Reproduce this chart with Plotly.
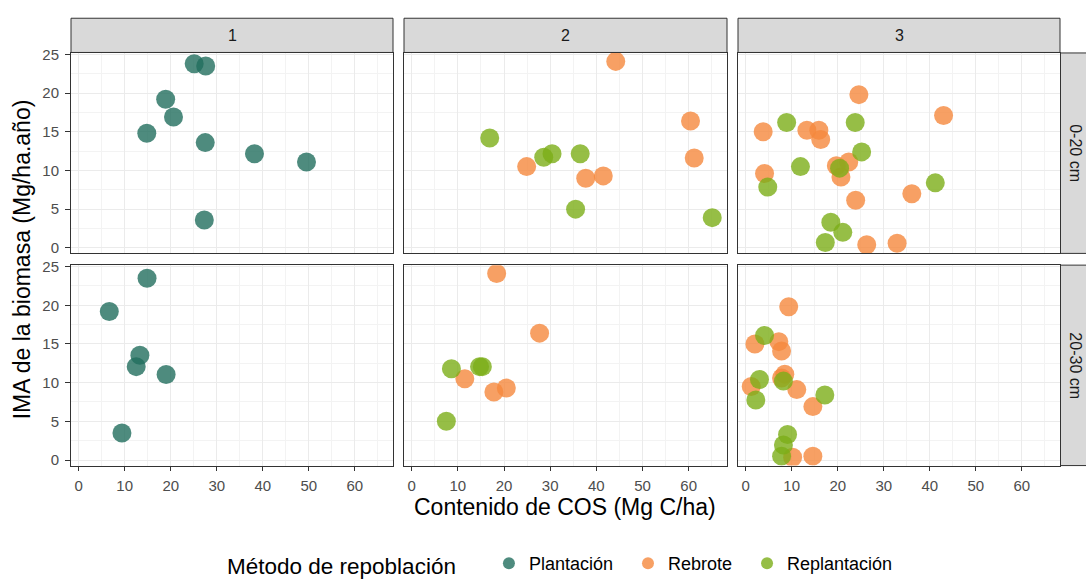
import plotly.graph_objects as go

W, H = 1086, 585

methods = ["Plantación", "Rebrote", "Replantación"]
colors = {"Plantación": "rgba(34,110,94,0.8)",
          "Rebrote": "rgba(245,136,61,0.8)",
          "Replantación": "rgba(124,174,24,0.8)"}

cols = ["1", "2", "3"]
rows = ["0-20 cm", "20-30 cm"]

p1_020_plant_x = [25.1, 27.6, 18.9, 20.6, 14.8, 27.5, 38.2, 49.5, 27.3]
p1_020_plant_y = [23.8, 23.5, 19.2, 16.9, 14.8, 13.6, 12.15, 11.1, 3.6]

p2_020_rebr_x = [44.2, 60.4, 61.2, 24.9, 37.7, 41.5]
p2_020_rebr_y = [24.1, 16.4, 11.6, 10.5, 9.0, 9.3]
p2_020_repl_x = [16.9, 28.6, 30.4, 36.5, 35.5, 65.1]
p2_020_repl_y = [14.2, 11.7, 12.15, 12.15, 5.0, 3.9]

p3_020_rebr_x = [24.6, 43.0, 3.8, 13.3, 15.9, 16.3, 22.4, 19.7, 20.7, 4.1, 23.9, 36.1, 26.3, 32.9]
p3_020_rebr_y = [19.8, 17.1, 15.0, 15.2, 15.2, 14.0, 11.1, 10.6, 9.15, 9.6, 6.15, 7.0, 0.4, 0.6]
p3_020_repl_x = [8.9, 23.8, 25.2, 11.9, 20.4, 4.8, 41.2, 18.5, 21.1, 17.3]
p3_020_repl_y = [16.2, 16.2, 12.4, 10.5, 10.3, 7.85, 8.4, 3.3, 2.0, 0.7]

p1_2030_plant_x = [14.85, 6.65, 13.3, 12.5, 19.0, 9.4]
p1_2030_plant_y = [23.5, 19.2, 13.55, 12.07, 11.05, 3.5]

p2_2030_rebr_x = [18.4, 27.7, 11.5, 17.8, 20.5]
p2_2030_rebr_y = [24.1, 16.4, 10.5, 8.8, 9.3]
p2_2030_repl_x = [8.6, 14.7, 15.3, 7.5]
p2_2030_repl_y = [11.8, 12.07, 12.07, 5.0]

p3_2030_rebr_x = [9.35, 2.0, 7.2, 7.8, 8.5, 7.8, 1.2, 11.1, 14.6, 10.2, 14.6]
p3_2030_rebr_y = [19.8, 15.0, 15.3, 14.1, 11.1, 10.6, 9.5, 9.1, 6.9, 0.35, 0.5]
p3_2030_repl_x = [4.1, 3.0, 8.2, 2.2, 17.2, 9.1, 8.2, 7.8]
p3_2030_repl_y = [16.1, 10.4, 10.2, 7.75, 8.4, 3.3, 1.95, 0.5]

series = [
    (1, 1, "Plantación", p1_020_plant_x, p1_020_plant_y),
    (2, 1, "Rebrote", p2_020_rebr_x, p2_020_rebr_y),
    (2, 1, "Replantación", p2_020_repl_x, p2_020_repl_y),
    (3, 1, "Rebrote", p3_020_rebr_x, p3_020_rebr_y),
    (3, 1, "Replantación", p3_020_repl_x, p3_020_repl_y),
    (1, 2, "Plantación", p1_2030_plant_x, p1_2030_plant_y),
    (2, 2, "Rebrote", p2_2030_rebr_x, p2_2030_rebr_y),
    (2, 2, "Replantación", p2_2030_repl_x, p2_2030_repl_y),
    (3, 2, "Rebrote", p3_2030_rebr_x, p3_2030_rebr_y),
    (3, 2, "Replantación", p3_2030_repl_x, p3_2030_repl_y),
]

x_ticks = [0, 10, 20, 30, 40, 50, 60]
y_ticks = [0, 5, 10, 15, 20, 25]

col_px = [(71, 393), (404, 727), (738, 1060)]
row_px = [(47, 252), (264, 469)]

def px_x(v):
    return v / W

def px_y(v):
    return 1 - v / H

fig = go.Figure()

rank = {"Plantación": 1, "Rebrote": 2, "Replantación": 3}
shown = set()
for c, r, m, xs, ys in series:
    idx = (r - 1) * 3 + c
    xa = "x" if idx == 1 else f"x{idx}"
    ya = "y" if idx == 1 else f"y{idx}"
    fig.add_trace(go.Scatter(
        x=xs, y=ys, mode="markers", name=m + "  ", legendgroup=m,
        showlegend=m not in shown, legendrank=rank[m],
        marker=dict(size=19, color=colors[m], line=dict(width=0)),
        xaxis=xa, yaxis=ya,
    ))
    shown.add(m)

grid_major = "#EBEBEB"
grid_minor = "#F3F3F3"
FONT = "Liberation Sans, Arial"
tickfont = dict(family=FONT, size=15, color="#4D4D4D")

layout = dict()
for r in range(1, 3):
    for c in range(1, 4):
        idx = (r - 1) * 3 + c
        xk = "xaxis" if idx == 1 else f"xaxis{idx}"
        yk = "yaxis" if idx == 1 else f"yaxis{idx}"
        x0, x1 = col_px[c - 1]
        y0, y1 = row_px[r - 1]
        bottom = r == 2
        left = c == 1
        layout[xk] = dict(
            domain=[px_x(x0), px_x(x1)], range=[-1.67, 68.3],
            anchor="y" if idx == 1 else f"y{idx}",
            tickvals=x_ticks, ticktext=[str(t) for t in x_ticks],
            showticklabels=bottom, ticks="outside" if bottom else "",
            ticklen=4, tickcolor="#333333", tickwidth=1,
            tickfont=tickfont, ticklabelstandoff=2,
            showgrid=True, gridcolor=grid_major, gridwidth=1,
            minor=dict(tickvals=[5, 15, 25, 35, 45, 55, 65], showgrid=True,
                       gridcolor=grid_minor, gridwidth=1, ticks=""),
            showline=True, linecolor="#333333", linewidth=1, mirror=True,
            zeroline=False, fixedrange=True,
        )
        layout[yk] = dict(
            domain=[px_y(y1), px_y(y0)], range=[-0.72, 25.19],
            anchor="x" if idx == 1 else f"x{idx}",
            tickvals=y_ticks, ticktext=[str(t) for t in y_ticks],
            showticklabels=left, ticks="outside" if left else "",
            ticklen=5, tickcolor="#333333", tickwidth=1,
            tickfont=tickfont, ticklabelstandoff=3,
            showgrid=True, gridcolor=grid_major, gridwidth=1,
            minor=dict(tickvals=[2.5, 7.5, 12.5, 17.5, 22.5], showgrid=True,
                       gridcolor=grid_minor, gridwidth=1, ticks=""),
            showline=True, linecolor="#333333", linewidth=1, mirror=True,
            zeroline=False, fixedrange=True,
        )

shapes = []
annotations = []
strip_font = dict(family=FONT, size=16, color="#1A1A1A")
for i, (x0, x1) in enumerate(col_px):
    shapes.append(dict(type="rect", xref="paper", yref="paper",
                       x0=px_x(x0), x1=px_x(x1), y0=px_y(46.5), y1=px_y(11.5),
                       fillcolor="#D9D9D9", line=dict(color="#333333", width=1),
                       layer="below"))
    annotations.append(dict(text=cols[i], xref="paper", yref="paper",
                            x=px_x((x0 + x1) / 2), y=px_y(29), showarrow=False,
                            font=strip_font, xanchor="center", yanchor="middle"))
for j, (y0, y1) in enumerate(row_px):
    shapes.append(dict(type="rect", xref="paper", yref="paper",
                       x0=px_x(1060.5), x1=px_x(1095), y0=px_y(y1), y1=px_y(y0),
                       fillcolor="#D9D9D9", line=dict(color="#333333", width=1),
                       layer="below"))
    annotations.append(dict(text=rows[j], xref="paper", yref="paper",
                            x=px_x(1076), y=px_y((y0 + y1) / 2), showarrow=False,
                            textangle=90, font=strip_font,
                            xanchor="center", yanchor="middle"))

title_font = dict(family=FONT, size=23, color="#000000")
annotations.append(dict(text="Contenido de COS (Mg C/ha)", xref="paper", yref="paper",
                        x=px_x(565), y=px_y(511), showarrow=False, font=title_font,
                        xanchor="center", yanchor="middle"))
annotations.append(dict(text="IMA de la biomasa (Mg/ha.año)", xref="paper", yref="paper",
                        x=px_x(22), y=px_y(258), showarrow=False, font=title_font,
                        textangle=-90, xanchor="center", yanchor="middle"))

fig.update_layout(
    width=W, height=H,
    margin=dict(l=0, r=0, t=0, b=0),
    paper_bgcolor="white", plot_bgcolor="white",
    shapes=shapes, annotations=annotations,
    showlegend=True,
    legend=dict(orientation="h", x=px_x(225), y=px_y(571), xanchor="left",
                yanchor="middle",
                title=dict(text="Método de repoblación    ", side="left",
                           font=dict(family=FONT, size=22.5, color="#000000")),
                font=dict(family=FONT, size=18, color="#000000"),
                itemsizing="constant", bgcolor="rgba(0,0,0,0)",
                tracegroupgap=0, itemwidth=30),
    **layout,
)

fig.write_html("out.html", config={"displayModeBar": False},
               post_script="document.body.style.margin='0';document.body.style.padding='0';document.body.style.overflow='hidden';")
